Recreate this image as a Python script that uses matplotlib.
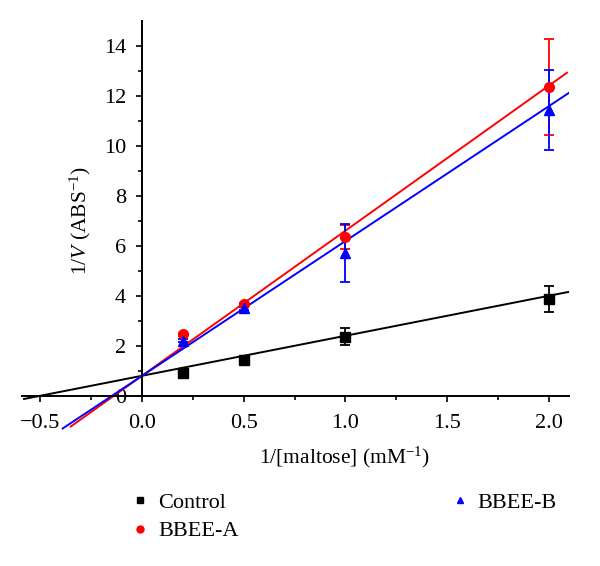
import matplotlib
matplotlib.use("Agg")
import matplotlib.pyplot as plt
from matplotlib.lines import Line2D

plt.rcParams['font.family'] = ['Liberation Serif', 'DejaVu Serif']
plt.rcParams['mathtext.fontset'] = 'custom'
plt.rcParams['mathtext.rm'] = 'Liberation Serif'
plt.rcParams['mathtext.it'] = 'Liberation Serif:italic'

# data
x_vals = [0.2, 0.5, 1.0, 2.0]

control_y = [0.92, 1.43, 2.36, 3.87]
control_err = [0.05, 0.05, 0.33, 0.52]

bbee_a_y = [2.45, 3.65, 6.34, 12.34]
bbee_a_err = [0.06, 0.06, 0.48, 1.93]

bbee_b_y = [2.2, 3.5, 5.7, 11.43]
bbee_b_err = [0.06, 0.06, 1.15, 1.6]

# fitted line end points (as drawn in the reference)
control_fit_x = [-0.58, 2.14]
control_fit_y = [-0.13, 4.22]
bbee_a_fit_x = [-0.35, 2.09]
bbee_a_fit_y = [-1.23, 12.92]
bbee_b_fit_x = [-0.39, 2.145]
bbee_b_fit_y = [-1.31, 12.36]

fig = plt.figure(figsize=(6.0, 5.66), dpi=100)
ax = fig.add_axes([0.0367, 0.239, 0.9117, 0.7244])

series = [
    ("Control", control_y, control_err, control_fit_x, control_fit_y, "black", "s"),
    ("BBEE-A", bbee_a_y, bbee_a_err, bbee_a_fit_x, bbee_a_fit_y, "#ff0000", "o"),
    ("BBEE-B", bbee_b_y, bbee_b_err, bbee_b_fit_x, bbee_b_fit_y, "#0000ff", "^"),
]

handles = []
for name, y, err, fx, fy, col, mk in series:
    ax.plot(fx, fy, color=col, linewidth=1.4, zorder=2)
    ax.errorbar(x_vals, y, yerr=err, fmt=mk, color=col, markersize=7,
                capsize=3.5, elinewidth=1.3, capthick=1.3, zorder=3)
    handles.append(Line2D([], [], marker=mk, color=col, linestyle='none',
                          markersize=5, label=name))

ax.set_xlim(-0.59, 2.1)
ax.set_ylim(-1.4, 15)

ax.spines['left'].set_position(('data', 0))
ax.spines['bottom'].set_position(('data', 0))
ax.spines['left'].set_bounds(0, 15)
ax.spines['top'].set_visible(False)
ax.spines['right'].set_visible(False)
for s in ['left', 'bottom']:
    ax.spines[s].set_linewidth(1.4)

ax.set_xticks([-0.5, 0.0, 0.5, 1.0, 1.5, 2.0])
ax.set_xticklabels(['\u22120.5', '0.0', '0.5', '1.0', '1.5', '2.0'])
ax.set_xticks([-0.25, 0.25, 0.75, 1.25, 1.75], minor=True)
ax.set_yticks([0, 2, 4, 6, 8, 10, 12, 14])
ax.set_yticks([1, 3, 5, 7, 9, 11, 13], minor=True)
ax.tick_params(axis='both', which='major', direction='out', length=4.5, width=1.2,
               labelsize=16)
ax.tick_params(axis='both', which='minor', direction='out', length=2.7, width=1.2)
ax.tick_params(axis='x', which='major', pad=9)
ax.tick_params(axis='y', which='major', pad=7)

ax.set_xlabel('1/[maltose] (mM$^{-1}$)', fontsize=15.5)
ax.set_ylabel('1/$\\mathit{V}$ (ABS$^{-1}$)', fontsize=15.5)
ax.xaxis.set_label_coords(0.589, -0.034)
ax.yaxis.set_label_coords(0.13, 0.514)

fig.legend(handles=handles, loc='upper left', bbox_to_anchor=(0.182, 0.165),
           ncol=2, frameon=False, fontsize=16, handlelength=1.0,
           handletextpad=0.3, columnspacing=9.45, labelspacing=0.35)

fig.savefig('out.png', dpi=100)
